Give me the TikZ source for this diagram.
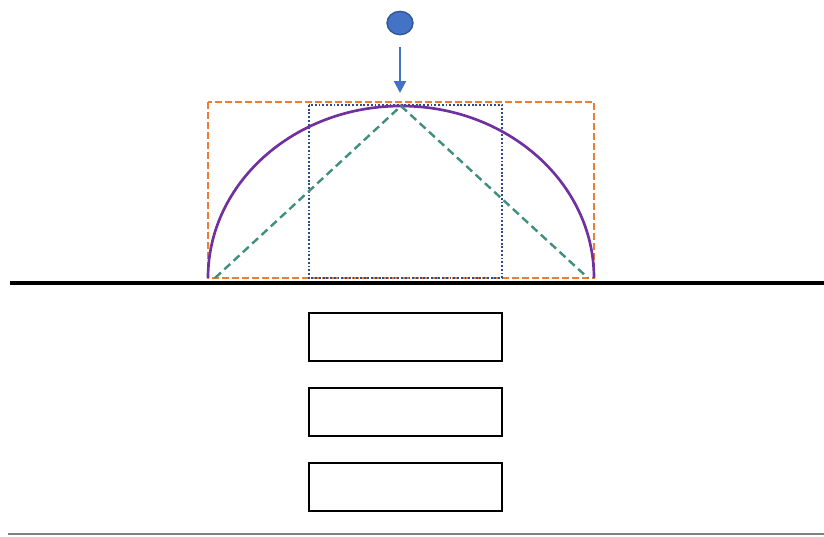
\documentclass[tikz,border=0pt]{standalone}
\usetikzlibrary{arrows.meta,shapes.geometric}
\definecolor{ballblue}{HTML}{4472C4}
\definecolor{balledge}{HTML}{2F5597}
\definecolor{orng}{HTML}{ED7D31}
\definecolor{navy}{HTML}{2E4A8A}
\definecolor{purp}{HTML}{7030A0}
\definecolor{teal}{HTML}{3F8F7F}
\tikzset{
  px/.style={x=0.75pt,y=-0.75pt},
  boxstyle/.style={draw=black,line width=2.2pt,minimum width=144.75pt,minimum height=36pt,inner sep=0pt},
  ballstyle/.style={ellipse,fill=ballblue,draw=balledge,line width=1pt,minimum width=19.5pt,minimum height=17.5pt,inner sep=0pt},
}
\begin{document}
\begin{tikzpicture}[px]
\useasboundingbox (0,0) rectangle (824,536);
% ball and arrow
\node[ballstyle] (ball) at (400,23) {};
\coordinate (arrS) at (400,47);
\coordinate (arrE) at (400,93);
\draw[ballblue,line width=1.6pt,-{Triangle[length=9pt,width=9pt]}] (arrS) -- (arrE);
% orange dashed rectangle
\draw[orng,line width=1.7pt,dash pattern=on 5pt off 2.5pt] (208,102) rectangle (594,278);
% navy dotted rectangle
\draw[navy,line width=1.6pt,dash pattern=on 1.4pt off 1.4pt] (309,105) rectangle (502,278);
% purple semi-ellipse
\draw[purp,line width=2pt] (208,278) arc[start angle=180,end angle=0,x radius=193,y radius=-172];
% teal dashed lines
\coordinate (tl) at (215,278);
\coordinate (tt) at (401,106);
\coordinate (tr) at (588,278);
\draw[teal,line width=1.8pt,dash pattern=on 6pt off 3.5pt] (tl) -- (tt) -- (tr);
% ground
\draw[black,line width=2.6pt] (10,283) -- (824,283);
% boxes
\node[boxstyle] (b1) at (405.5,337) {};
\node[boxstyle] (b2) at (405.5,412) {};
\node[boxstyle] (b3) at (405.5,487) {};
% bottom gray line
\draw[gray,line width=1.3pt] (8,534) -- (824,534);
\end{tikzpicture}
\end{document}
